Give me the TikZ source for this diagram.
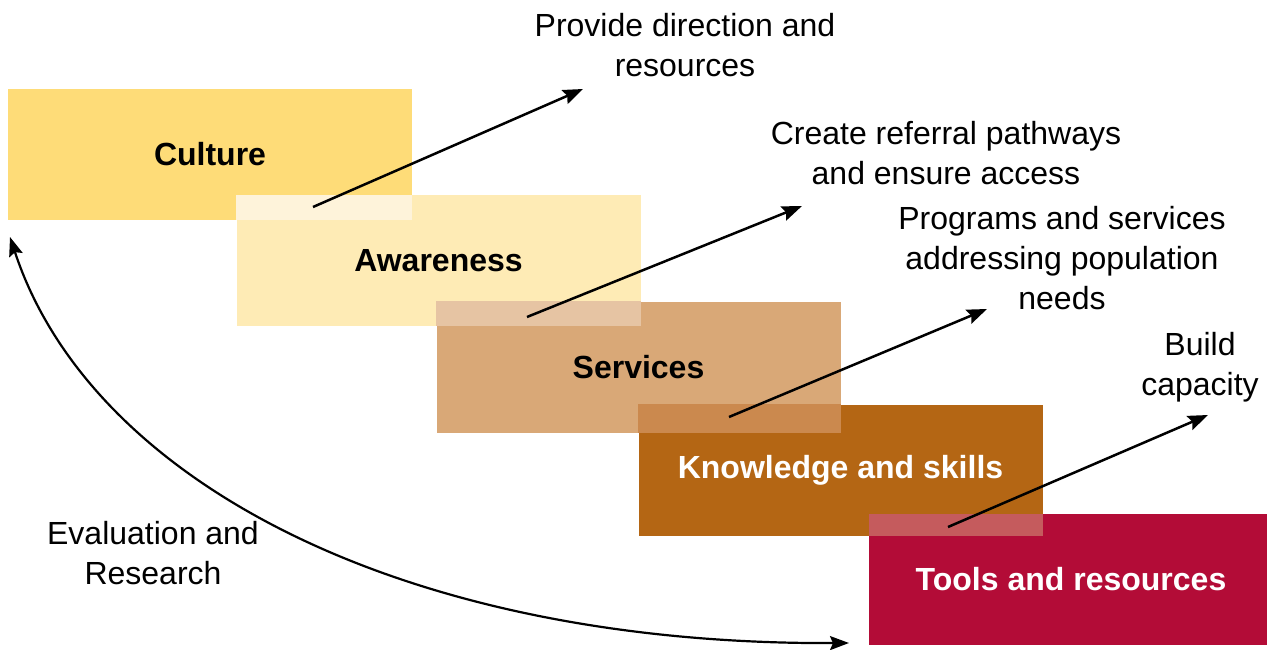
\documentclass[tikz,border=0pt]{standalone}
\usepackage{fontspec}
\setmainfont{Liberation Sans}
\usetikzlibrary{arrows.meta}
\definecolor{cultureC}{HTML}{FEDC78}
\definecolor{awareC}{HTML}{FEEBB5}
\definecolor{servC}{HTML}{D9A877}
\definecolor{knowC}{HTML}{B46614}
\definecolor{toolC}{HTML}{B30C37}
\definecolor{ovCA}{HTML}{FEF3DA}
\definecolor{ovAS}{HTML}{E6C4A3}
\definecolor{ovSK}{HTML}{CB894E}
\definecolor{ovKT}{HTML}{C55B5D}
\tikzset{
	stage/.style={rectangle, inner sep=0pt, minimum width=404pt, minimum height=131pt},
	stagetext/.style={font=\fontsize{32}{38}\selectfont\bfseries},
	note/.style={align=center, font=\fontsize{32}{40}\selectfont},
	push/.style={line width=2.5pt, -{Stealth[length=20pt,width=15pt,inset=3pt]}},
	loop/.style={line width=2.2pt, {Stealth[length=19pt,width=14pt,inset=3pt]}-{Stealth[length=19pt,width=14pt,inset=3pt]}}
}

\begin{document}
\begin{tikzpicture}[x=1pt,y=-1pt]
		%%%%% START %%%%%
		\useasboundingbox (0,0) rectangle (1267,650);
		
		\node[stage, fill=cultureC] (culture) at (210,154.5) {};
		\node[stage, fill=awareC] (aware) at (438.5,260.5) {};
		\node[stage, fill=servC] (serv) at (638.5,367) {};
		\node[stage, fill=knowC] (know) at (840.5,470) {};
		\node[stage, fill=toolC, minimum width=398pt] (tool) at (1068,579.5) {};
		
		\fill[ovCA] (aware.north west) rectangle (culture.south east);
		\fill[ovAS] (serv.north west) rectangle (aware.south east);
		\fill[ovSK] (know.north west) rectangle (serv.south east);
		\fill[ovKT] (tool.north west) rectangle (know.south east);
		
		\node[stagetext] (cultureT) at (culture) {Culture};
		\node[stagetext] (awareT) at (aware) {Awareness};
		\node[stagetext] (servT) at (serv) {Services};
		\node[stagetext, text=white] (knowT) at (know) {Knowledge and skills};
		\node[stagetext, text=white] (toolT) at (1071,579.5) {Tools and resources};
		
		\node[note] (direct) at (685,45) {Provide direction and\\resources};
		\node[note] (refer) at (946,153) {Create referral pathways\\and ensure access};
		\node[note] (prog) at (1062,258) {Programs and services\\addressing population\\needs};
		\node[note] (build) at (1200,367) {Build\\capacity};
		\node[note] (eval) at (153,553) {Evaluation and\\Research};
		
		\coordinate (t1) at (313,207);
		\coordinate (h1) at (583,89);
		\coordinate (t2) at (527,317);
		\coordinate (h2) at (802,206);
		\coordinate (t3) at (729,417);
		\coordinate (h3) at (987,309);
		\coordinate (t4) at (948,527);
		\coordinate (h4) at (1208,415);
		\draw[push] (t1) -- (h1);
		\draw[push] (t2) -- (h2);
		\draw[push] (t3) -- (h3);
		\draw[push] (t4) -- (h4);
		
		\coordinate (top) at (10,237);
		\coordinate (bottom) at (849,643);
		\draw[loop] (top) .. controls (90,480) and (400,645) .. (bottom);
		
		%%%%% END %%%%%
	\end{tikzpicture}
\end{document}
